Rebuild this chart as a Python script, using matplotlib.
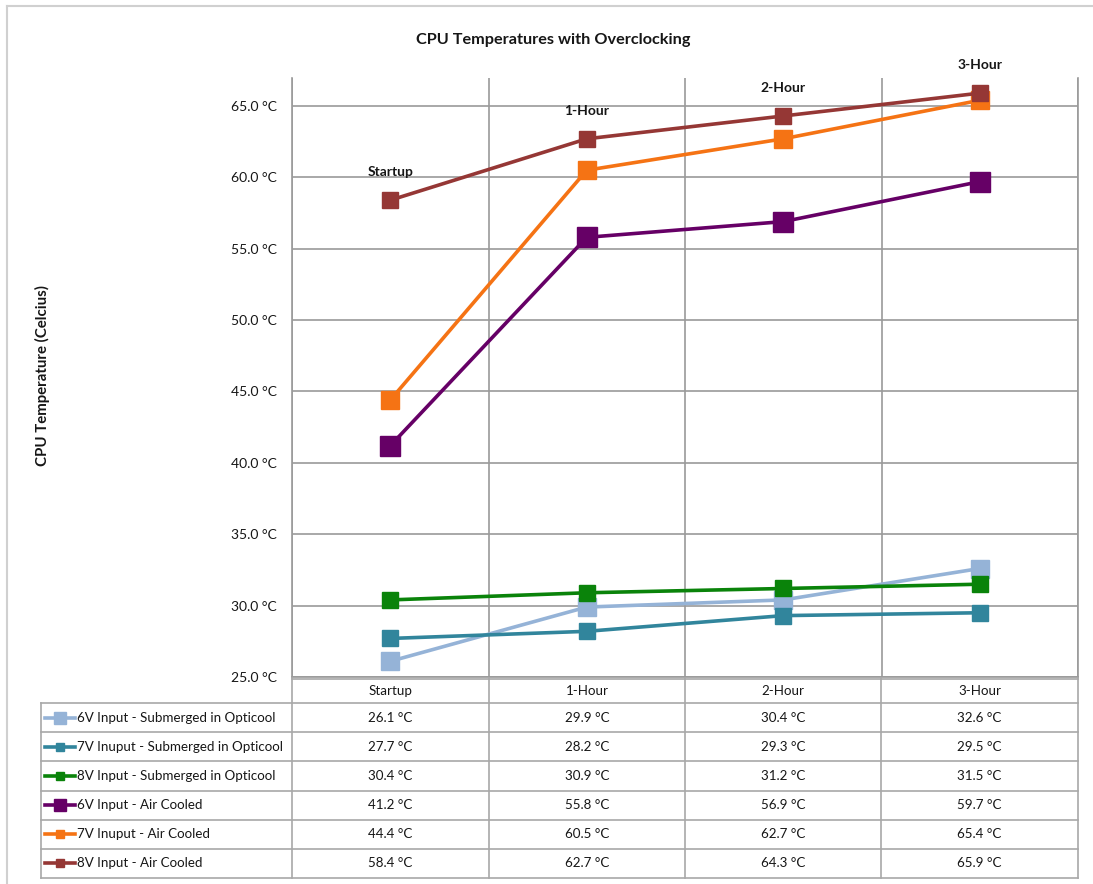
import numpy as np
import matplotlib.pyplot as plt
from matplotlib.lines import Line2D

plt.rcParams['font.family'] = ['Lato', 'DejaVu Sans']

# ---- data ----
categories = ['Startup', '1-Hour', '2-Hour', '3-Hour']
series_names = [
    '6V Input - Submerged in Opticool',
    '7V Inuput - Submerged in Opticool',
    '8V Input - Submerged in Opticool',
    '6V Input - Air Cooled',
    '7V Inuput - Air Cooled',
    '8V Input - Air Cooled',
]
v6_sub = [26.1, 29.9, 30.4, 32.6]
v7_sub = [27.7, 28.2, 29.3, 29.5]
v8_sub = [30.4, 30.9, 31.2, 31.5]
v6_air = [41.2, 55.8, 56.9, 59.7]
v7_air = [44.4, 60.5, 62.7, 65.4]
v8_air = [58.4, 62.7, 64.3, 65.9]
all_series = [v6_sub, v7_sub, v8_sub, v6_air, v7_air, v8_air]

colors = ['#95B3D7', '#31859C', '#0A830A', '#660066', '#F57314', '#953735']
msizes = [13, 12, 12, 14, 13, 12]

W, H = 1093, 884
fig = plt.figure(figsize=(W / 100, H / 100), dpi=100)

def px_rect(x0, y0, x1, y1):
    return [x0 / W, 1 - y1 / H, (x1 - x0) / W, (y1 - y0) / H]

GRID = '#9A9A9A'
TXT = '#161616'

# ---- chart ----
ax = fig.add_axes(px_rect(292, 78, 1078, 677))
x = np.arange(len(categories)) + 0.5
for vals, c, ms in zip(all_series, colors, msizes):
    ax.plot(x, vals, color=c, lw=2.6, marker='s', ms=ms, mec=c, mfc=c, zorder=3)

ax.set_xlim(0, len(categories))
ax.set_ylim(25, 66.96)
ax.set_yticks(np.arange(25, 66, 5))
ax.set_yticklabels([f'{t:.1f} °C' for t in np.arange(25, 66, 5)], fontsize=10, color=TXT)
ax.set_xticks(np.arange(0, len(categories) + 1))
ax.set_xticklabels([])
ax.tick_params(length=0, pad=11)
ax.grid(True, color=GRID, lw=1.2)
ax.set_axisbelow(True)
for s in ['left', 'bottom', 'right']:
    ax.spines[s].set_color(GRID)
    ax.spines[s].set_linewidth(1.2)
ax.spines['top'].set_visible(False)

# category labels above the top series
for xi, cat, top in zip(x, categories, v8_air):
    ax.annotate(cat, (xi, top), xytext=(0, 20), textcoords='offset points',
                ha='center', va='center', fontsize=10, fontweight='bold', color=TXT)

fig.text(553 / W, 1 - 40 / H, 'CPU Temperatures with Overclocking', ha='center', va='center',
         fontsize=11.7, fontweight='bold', color=TXT)
fig.text(42 / W, 1 - 376 / H, 'CPU Temperature (Celcius)', rotation=90, ha='center', va='center',
         fontsize=10.8, fontweight='bold', color=TXT)

# ---- outer frame ----
fig.add_artist(Line2D([7 / W, 7 / W], [1 - 6 / H, 0], color='#D0D0D0', lw=1.5))
fig.add_artist(Line2D([7 / W, 1], [1 - 6 / H, 1 - 6 / H], color='#D0D0D0', lw=1.5))

# ---- data table ----
tab = fig.add_axes(px_rect(0, 677, W, 880))
tab.set_xlim(0, W)
tab.set_ylim(880, 677)
tab.axis('off')

col_edges = [292, 489, 685, 881, 1078]
row_edges = [677, 703] + [703 + 29.17 * (i + 1) for i in range(len(series_names))]
left_edge = 41

TL = '#A8A8A8'
for ry in row_edges[1:]:
    tab.plot([left_edge, col_edges[-1]], [ry, ry], color=TL, lw=1.2)
tab.plot([col_edges[0], col_edges[-1]], [row_edges[0] + 1.5, row_edges[0] + 1.5], color=TL, lw=1.2)
for cx in col_edges:
    tab.plot([cx, cx], [row_edges[0], row_edges[-1]], color=TL, lw=1.2)
tab.plot([left_edge, left_edge], [row_edges[1], row_edges[-1]], color=TL, lw=1.2)

centers = [(a + b) / 2 for a, b in zip(col_edges[:-1], col_edges[1:])]
for cx, cat in zip(centers, categories):
    tab.text(cx, (row_edges[0] + row_edges[1]) / 2 + 1, cat, ha='center', va='center',
             fontsize=9.6, color=TXT)

for i, (name, vals, c) in enumerate(zip(series_names, all_series, colors)):
    cy = (row_edges[i + 1] + row_edges[i + 2]) / 2
    tab.plot([45, 75], [cy, cy], color=c, lw=2.6)
    tab.plot([60], [cy], marker='s', ms=8 if i in (0, 3) else 6, color=c)
    tab.text(77, cy, name, ha='left', va='center', fontsize=9.6, color=TXT)
    for cx, v in zip(centers, vals):
        tab.text(cx, cy, f'{v:.1f} °C', ha='center', va='center', fontsize=9.6, color=TXT)

fig.savefig('out.png', dpi=100)
